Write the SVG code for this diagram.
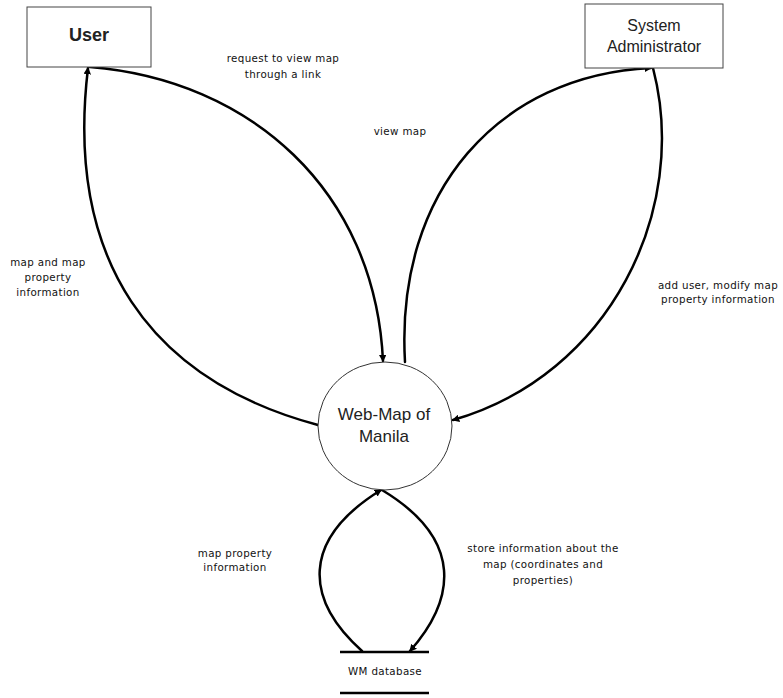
<svg xmlns="http://www.w3.org/2000/svg" width="783" height="698" viewBox="0 0 783 698">
<style>
.box{fill:#fff;stroke:#444;stroke-width:1}
.big{font-family:"Liberation Sans",Arial,sans-serif;fill:#222;text-anchor:middle}
.lbl{font-family:"DejaVu Sans",Verdana,sans-serif;font-size:10.3px;fill:#111;text-anchor:middle;letter-spacing:0.35px}
.flow{fill:none;stroke:#000;stroke-width:2.5;stroke-linecap:round}
</style>
<defs>
<marker id="ah" viewBox="0 0 6 6" refX="5" refY="3" markerWidth="3" markerHeight="3" orient="auto" markerUnits="strokeWidth">
<path d="M0 0 L6 3 L0 6 Z" fill="#000"/>
</marker>
</defs>
<rect width="783" height="698" fill="#fff"/>
<g id="connectors">
<path class="flow" d="M 90 67 C 250 80, 375 190, 383 361" marker-end="url(#ah)"/>
<path class="flow" d="M 318 425 C 150 380, 65 260, 88 68" marker-end="url(#ah)"/>
<path class="flow" d="M 405 362 C 395 190, 500 75, 651 68" marker-end="url(#ah)"/>
<path class="flow" d="M 653 68 C 690 210, 610 375, 453 420" marker-end="url(#ah)"/>
<path class="flow" d="M 362 651 C 305 600, 300 540, 381 490" marker-end="url(#ah)"/>
<path class="flow" d="M 382 490 C 465 540, 455 600, 410 651" marker-end="url(#ah)"/>
</g>
<g id="user">
<rect class="box" x="27" y="7" width="124" height="60"/>
<text class="big" x="89" y="41" font-size="18" font-weight="bold">User</text>
</g>
<g id="sysadmin">
<rect class="box" x="585" y="4" width="138" height="64"/>
<text class="big" x="654" y="31" font-size="16">System</text>
<text class="big" x="654" y="52" font-size="16">Administrator</text>
</g>
<g id="webmap">
<ellipse cx="385" cy="426" rx="67" ry="64" fill="#fff" stroke="#333" stroke-width="1"/>
<text class="big" x="384" y="420" font-size="17">Web-Map of</text>
<text class="big" x="384" y="442" font-size="17">Manila</text>
</g>
<g id="wmdb">
<line x1="340" y1="652" x2="429" y2="652" stroke="#000" stroke-width="2.5"/>
<line x1="340" y1="693" x2="429" y2="693" stroke="#000" stroke-width="2.5"/>
<text class="lbl" x="385" y="675">WM database</text>
</g>
<g id="labels">
<text class="lbl" x="283" y="62">request to view map</text>
<text class="lbl" x="283" y="78">through a link</text>
<text class="lbl" x="400" y="135">view map</text>
<text class="lbl" x="48" y="266">map and map</text>
<text class="lbl" x="48" y="281">property</text>
<text class="lbl" x="48" y="296">information</text>
<text class="lbl" x="718" y="289">add user, modify map</text>
<text class="lbl" x="718" y="303">property information</text>
<text class="lbl" x="235" y="557">map property</text>
<text class="lbl" x="235" y="571">information</text>
<text class="lbl" x="543" y="552">store information about the</text>
<text class="lbl" x="543" y="568">map (coordinates and</text>
<text class="lbl" x="543" y="584">properties)</text>
</g>
</svg>
